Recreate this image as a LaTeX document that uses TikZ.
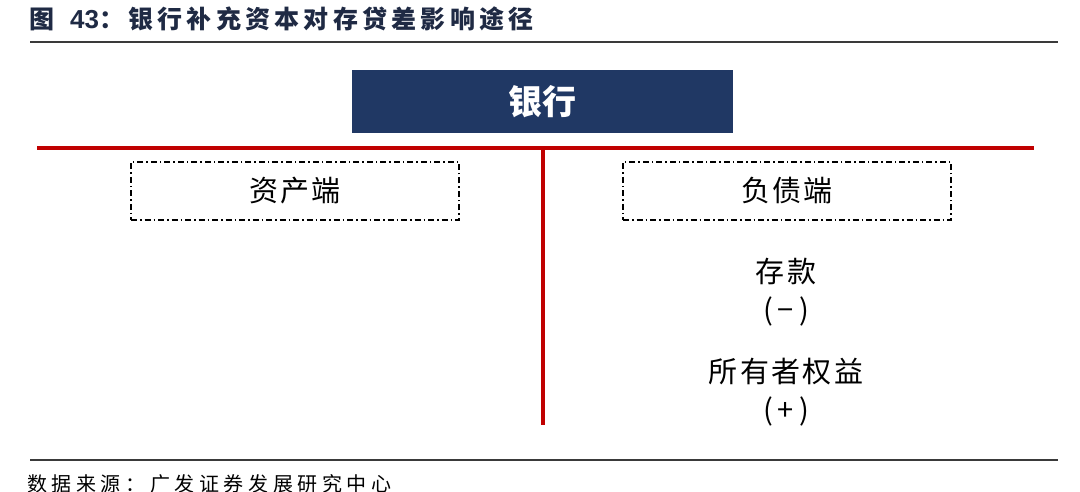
\documentclass[tikz,border=0pt]{standalone}
\usepackage{fontspec}
\setmainfont{Liberation Sans}
\newfontfamily\cjk{Noto Sans CJK SC}
\newfontfamily\cjktitle[LetterSpace=17]{Noto Sans CJK SC}
\newfontfamily\cjkbody[LetterSpace=8]{Noto Sans CJK SC}
\newfontfamily\cjksrc[LetterSpace=23]{Noto Sans CJK SC}
\definecolor{navy}{HTML}{203864}
\definecolor{bankred}{HTML}{C00000}
\definecolor{titlec}{HTML}{1F2A44}
\definecolor{rulegray}{HTML}{3A3A3A}
\tikzset{
  sidebox/.style={draw=black, line width=1.3pt, dash pattern=on 6pt off 3pt on 1.5pt off 3pt, minimum width=328pt, minimum height=58pt, inner sep=0pt},
  bodytext/.style={font=\fontsize{29}{30}\selectfont\cjkbody, text=black, inner sep=0pt},
  redline/.style={draw=bankred, line width=3.5pt},
}
\begin{document}
\begin{tikzpicture}[x=1pt,y=-1pt]
\useasboundingbox (0,0) rectangle (1080,492);
% title
\node[anchor=west, inner sep=0pt, text=titlec] (title) at (29,19)
  {\fontsize{25}{26}\selectfont\cjk\bfseries 图\hspace{16pt}{\fontspec{Liberation Sans}\fontsize{26}{27}\selectfont\bfseries 43}\cjktitle\bfseries ：银行补充资本对存贷差影响途径};
\draw[rulegray, line width=2pt] (30,42) -- (1058,42);
% bank
\node[fill=navy, minimum width=381pt, minimum height=63pt, inner sep=0pt,
  text=white, font=\fontsize{34}{35}\selectfont\cjk\bfseries] (bank) at (542.5,101.5) {银行};
% T lines
\coordinate (hl) at (37,148);
\coordinate (hr) at (1034,148);
\coordinate (vt) at (543,148);
\coordinate (vb) at (543,425);
\draw[redline] (hl) -- (hr);
\draw[redline] (vt) -- (vb);
% side boxes
\node[sidebox] (assets) at (295,191) {};
\node[bodytext] at (assets.center) {资产端};
\node[sidebox] (liab) at (787,191) {};
\node[bodytext] at (liab.center) {负债端};
% right items
\node[bodytext] (dep) at (786,271) {存款};
\node[bodytext] (depsign) at (786,311) {(\hspace{5pt}−\hspace{5pt})};
\node[bodytext] (eq) at (786,372) {所有者权益};
\node[bodytext] (eqsign) at (786,411) {(\hspace{5pt}+\hspace{5pt})};
% bottom
\draw[rulegray, line width=1.2pt] (30,460) -- (1058,460);
\node[anchor=west, inner sep=0pt, text=black, font=\fontsize{20}{21}\selectfont\cjksrc] (src) at (27,484) {数据来源：广发证券发展研究中心};
\end{tikzpicture}
\end{document}
